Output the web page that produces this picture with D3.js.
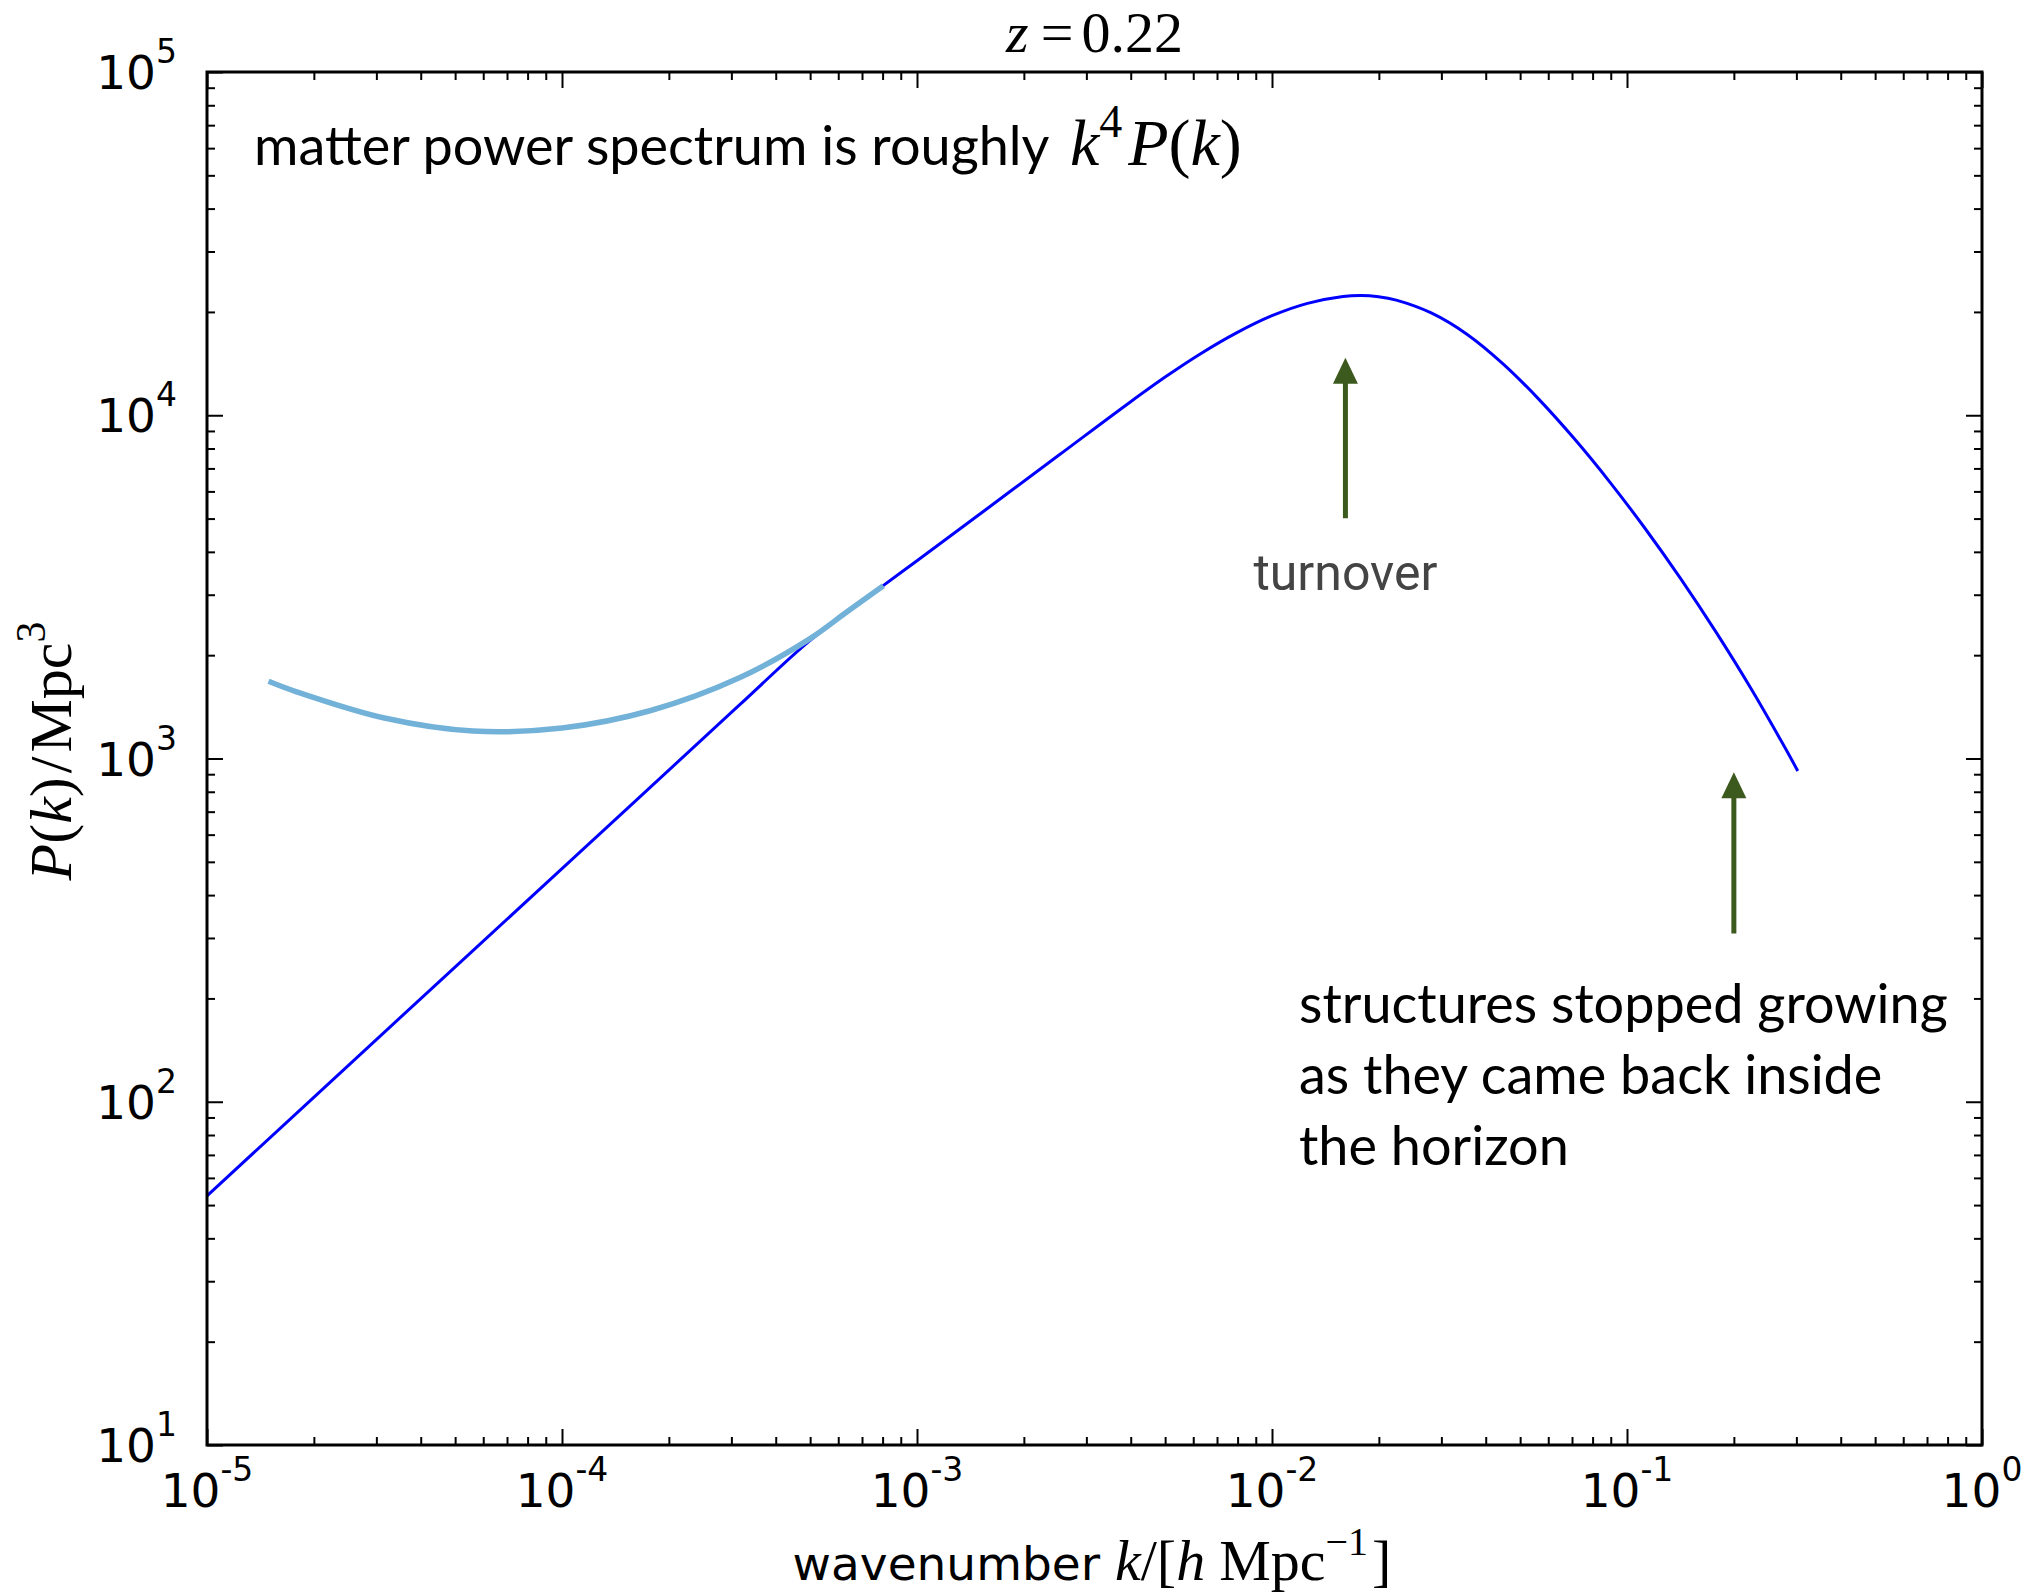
<!DOCTYPE html>
<html>
<head>
<meta charset="utf-8">
<script src="https://cdn.jsdelivr.net/npm/d3@7"></script>
<style>
  body { margin: 0; background: #fff; }
  svg { display: block; background: #fff; }
</style>
</head>
<body>
<svg id="chart" width="2031" height="1592"></svg>
<script>
// linear matter power spectrum (dark line)
const kMain = [1e-5, 3.162e-5, 1e-4, 3.162e-4, 5.012e-4, 7.943e-4, 1e-3, 1.585e-3, 2.512e-3, 3.981e-3,
               5.012e-3, 6.310e-3, 7.943e-3, 1e-2, 1.259e-2, 1.585e-2, 1.778e-2, 1.995e-2, 2.239e-2,
               2.818e-2, 3.548e-2, 4.467e-2, 5.623e-2, 7.079e-2, 8.913e-2, 0.1122, 0.1413, 0.1778,
               0.2239, 0.2818, 0.3027];
const pMain = [53.2, 159.6, 477.5, 1432, 2213, 3162, 3767, 5370, 7656, 10914,
               12940, 15136, 17378, 19498, 21184, 22182, 22336, 22157, 21652,
               19838, 17199, 14143, 11181, 8580, 6420, 4694, 3354, 2342,
               1594, 1053, 920];

// large scale branch (light line)
const kLight = [1.49e-5, 1.78e-5, 3.16e-5, 5.62e-5, 1e-4, 1.78e-4, 3.16e-4, 5.01e-4, 6.31e-4, 8.04e-4];
const pLight = [1679, 1567, 1312, 1202, 1227, 1380, 1718, 2239, 2661, 3184];

// tick exponents
const xTickExps = [-5, -4, -3, -2, -1, 0];
const yTickExps = [1, 2, 3, 4, 5];

// arrow annotations: k position, tip P, tail P
const arrowK = [0.0161, 0.2];
const arrowTipP = [14700, 912];
const arrowTailP = [5010, 309];

const svg = d3.select('#chart');

// plot box
const plotLeft = 207, plotRight = 1982, plotTop = 72, plotBottom = 1445;

const x = d3.scaleLog().domain([1e-5, 1]).range([plotLeft, plotRight]);
const y = d3.scaleLog().domain([10, 1e5]).range([plotBottom, plotTop]);

const mainData = kMain.map((k, i) => ({k: k, p: pMain[i]}));
const lightData = kLight.map((k, i) => ({k: k, p: pLight[i]}));

const line = d3.line()
    .x(d => x(d.k))
    .y(d => y(d.p))
    .curve(d3.curveCatmullRom.alpha(0.5));

// Setup curves, dark first so the light one sits on top
svg.append('path')
    .datum(mainData)
    .attr('d', line)
    .attr('fill', 'none')
    .attr('stroke', '#0000ff')
    .attr('stroke-width', 3);

svg.append('path')
    .datum(lightData)
    .attr('d', line)
    .attr('fill', 'none')
    .attr('stroke', '#73b2d8')
    .attr('stroke-width', 5.5);

// ticks - majors and minors on all four sides, pointing in
const xMajor = xTickExps.map(e => Math.pow(10, e));
const yMajor = yTickExps.map(e => Math.pow(10, e));
const xMinor = x.ticks().filter(v => !xMajor.some(m => Math.abs(v / m - 1) < 1e-6));
const yMinor = y.ticks().filter(v => !yMajor.some(m => Math.abs(v / m - 1) < 1e-6));

function tickAxis(axisFn, scale, values, size, tx, ty) {
  const g = svg.append('g')
      .attr('transform', 'translate(' + tx + ',' + ty + ')')
      .call(axisFn(scale).tickValues(values).tickSizeInner(-size).tickSizeOuter(0).tickFormat(''));
  g.select('.domain').remove();
  g.selectAll('line').attr('stroke', '#000').attr('stroke-width', 2);
}

tickAxis(d3.axisBottom, x, xMajor, 16, 0, plotBottom);
tickAxis(d3.axisBottom, x, xMinor, 8, 0, plotBottom);
tickAxis(d3.axisTop, x, xMajor, 16, 0, plotTop);
tickAxis(d3.axisTop, x, xMinor, 8, 0, plotTop);
tickAxis(d3.axisLeft, y, yMajor, 16, plotLeft, 0);
tickAxis(d3.axisLeft, y, yMinor, 8, plotLeft, 0);
tickAxis(d3.axisRight, y, yMajor, 16, plotRight, 0);
tickAxis(d3.axisRight, y, yMinor, 8, plotRight, 0);

// frame
svg.append('rect')
    .attr('x', plotLeft).attr('y', plotTop)
    .attr('width', plotRight - plotLeft).attr('height', plotBottom - plotTop)
    .attr('fill', 'none')
    .attr('stroke', '#000')
    .attr('stroke-width', 3);

// tick labels 10^n
const tickFont = "'DejaVu Sans', sans-serif";

const xLab = svg.append('g').selectAll('text')
    .data(xTickExps)
    .enter()
      .append('text')
      .attr('x', d => x(Math.pow(10, d)))
      .attr('y', 1507)
      .attr('text-anchor', 'middle')
      .style('font-family', tickFont)
      .style('font-size', '47px');
xLab.append('tspan').text('10');
xLab.append('tspan').attr('dy', -26).style('font-size', '33px').text(d => String(d));

const yLab = svg.append('g').selectAll('text')
    .data(yTickExps)
    .enter()
      .append('text')
      .attr('x', 177)
      .attr('y', d => y(Math.pow(10, d)) + 17)
      .attr('text-anchor', 'end')
      .style('font-family', tickFont)
      .style('font-size', '47px');
yLab.append('tspan').text('10');
yLab.append('tspan').attr('dy', -26).style('font-size', '33px').text(d => String(d));

// title
const serif = "'Liberation Serif', 'Times New Roman', serif";
const title = svg.append('text')
    .attr('x', (plotLeft + plotRight) / 2)
    .attr('y', 52)
    .attr('text-anchor', 'middle')
    .style('font-family', serif)
    .style('font-size', '58px');
title.append('tspan').style('font-style', 'italic').text('z');
title.append('tspan').attr('dx', 12).text('=');
title.append('tspan').attr('dx', 8).text('0.22');

// y label
const ylabel = svg.append('text')
    .attr('transform', 'translate(71,751) rotate(-90)')
    .attr('text-anchor', 'middle')
    .style('font-family', serif)
    .style('font-size', '60px');
ylabel.append('tspan').style('font-style', 'italic').text('P');
ylabel.append('tspan').text('(');
ylabel.append('tspan').style('font-style', 'italic').text('k');
ylabel.append('tspan').text(')');
ylabel.append('tspan').attr('dx', 4).text('/');
ylabel.append('tspan').attr('dx', 4).text('Mpc');
ylabel.append('tspan').attr('dy', -26).style('font-size', '42px').text('3');

// x label
const xlabel = svg.append('text')
    .attr('x', 1092)
    .attr('y', 1580)
    .attr('text-anchor', 'middle')
    .style('font-size', '47px');
xlabel.append('tspan').style('font-family', tickFont).text('wavenumber ');
xlabel.append('tspan').style('font-family', serif).style('font-size', '58px').style('font-style', 'italic').text('k');
xlabel.append('tspan').style('font-family', serif).style('font-size', '58px').text('/[');
xlabel.append('tspan').style('font-family', serif).style('font-size', '58px').style('font-style', 'italic').text('h');
xlabel.append('tspan').style('font-family', serif).style('font-size', '58px').attr('dx', 14).text('Mpc');
xlabel.append('tspan').style('font-family', serif).style('font-size', '40px').attr('dy', -25).text('\u22121');
xlabel.append('tspan').style('font-family', serif).style('font-size', '58px').attr('dy', 25).attr('dx', 4).text(']');

// annotation texts
const noteFont = "Lato, 'Open Sans', sans-serif";

const note1 = svg.append('text')
    .attr('x', 254)
    .attr('y', 165)
    .style('font-family', noteFont)
    .style('font-size', '54px')
    .style('fill', '#000');
note1.append('tspan').text('matter power spectrum is roughly ');
note1.append('tspan').attr('dx', 8).style('font-family', serif).style('font-size', '66px').style('font-style', 'italic').text('k');
note1.append('tspan').attr('dy', -28).style('font-family', serif).style('font-size', '46px').text('4');
note1.append('tspan').attr('dy', 28).attr('dx', 6).style('font-family', serif).style('font-size', '66px').style('font-style', 'italic').text('P');
note1.append('tspan').style('font-family', serif).style('font-size', '66px').text('(');
note1.append('tspan').style('font-family', serif).style('font-size', '66px').style('font-style', 'italic').text('k');
note1.append('tspan').style('font-family', serif).style('font-size', '66px').text(')');

svg.append('text')
    .attr('x', x(arrowK[0]))
    .attr('y', 590)
    .attr('text-anchor', 'middle')
    .style('font-family', "Roboto, sans-serif")
    .style('font-size', '50px')
    .style('fill', '#444444')
    .text('turnover');

const horizonLines = ['structures stopped growing', 'as they came back inside', 'the horizon'];
svg.append('g').selectAll('text')
    .data(horizonLines)
    .enter()
      .append('text')
      .attr('x', 1299)
      .attr('y', (d, i) => 1023 + i * 71)
      .style('font-family', noteFont)
      .style('font-size', '54px')
      .style('fill', '#000')
      .text(d => d);

// arrows
const arrowColour = '#3c5a1e';
const arrows = svg.append('g').selectAll('g')
    .data(arrowK.map((k, i) => ({k: k, tip: arrowTipP[i], tail: arrowTailP[i]})))
    .enter()
      .append('g');

arrows.append('line')
    .attr('x1', d => x(d.k)).attr('x2', d => x(d.k))
    .attr('y1', d => y(d.tail))
    .attr('y2', d => y(d.tip) + 24)
    .attr('stroke', arrowColour)
    .attr('stroke-width', 5);

arrows.append('path')
    .attr('d', d => {
      const ax = x(d.k), ay = y(d.tip);
      return 'M' + ax + ',' + ay + 'L' + (ax + 12.5) + ',' + (ay + 26) + 'L' + (ax - 12.5) + ',' + (ay + 26) + 'Z';
    })
    .attr('fill', arrowColour);
</script>
</body>
</html>
